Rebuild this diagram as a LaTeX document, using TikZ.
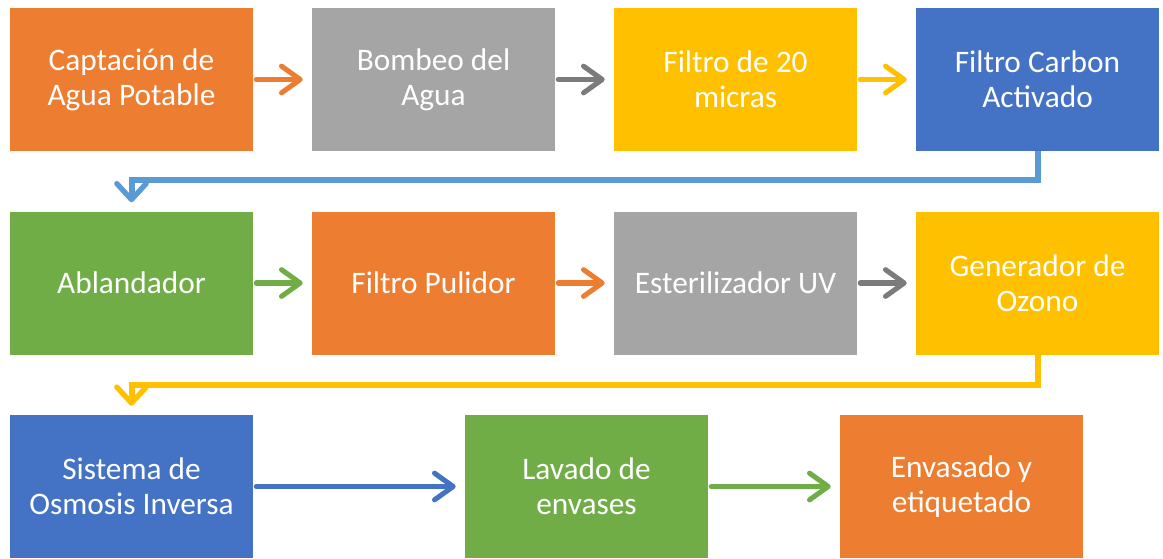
\documentclass[tikz,border=0pt]{standalone}
\usepackage{fontspec}
\setmainfont{Carlito}
\usepackage{tikz}
\usetikzlibrary{arrows.meta,positioning}
\definecolor{corange}{HTML}{ED7D31}
\definecolor{cgray}  {HTML}{A5A5A5}
\definecolor{cdgray} {HTML}{7B7B7B}
\definecolor{cyellow}{HTML}{FFC000}
\definecolor{cblue}  {HTML}{4472C4}
\definecolor{cgreen} {HTML}{70AD47}
\definecolor{clblue} {HTML}{5B9BD5}
\tikzset{
  % --- nodes
  stage/.style = {draw=none, minimum width=182.25pt, minimum height=107.25pt,
                  inner sep=2pt, align=center, text=white,
                  font=\fontsize{23.5}{26.25}\selectfont},
  % --- edges
  flow/.style  = {line width=3.8pt, line cap=round,
                  -{Straight Barb[length=14pt,width=20pt,line width=3.8pt,round]},
                  shorten <=2.25pt, shorten >=6.75pt},
  turn/.style  = {line width=4.5pt,
                  -{Straight Barb[length=12pt,width=22pt,line width=4pt,round]},
                  shorten >=6.75pt},
}
\begin{document}
\begin{tikzpicture}[x=0.75pt,y=-0.75pt]
  \useasboundingbox (0,0) rectangle (1163,558);
  % row 1
  \node[stage, fill=corange] (capt) at (131.5,79.5)  {Captación de\\Agua Potable};
  \node[stage, fill=cgray]   (bomb) at (433.5,79.5)  {Bombeo del\\Agua};
  \node[stage, fill=cyellow] (f20)  at (735.5,79.5)  {Filtro de 20\\micras};
  \node[stage, fill=cblue]   (fca)  at (1037.5,79.5) {Filtro Carbon\\Activado};
  % row 2
  \node[stage, fill=cgreen]  (abla) at (131.5,283)   {Ablandador};
  \node[stage, fill=corange] (fpul) at (433.5,283)   {Filtro Pulidor};
  \node[stage, fill=cgray]   (uv)   at (735.5,283)   {Esterilizador UV};
  \node[stage, fill=cyellow] (ozon) at (1037.5,283)  {Generador de\\Ozono};
  % row 3
  \node[stage, fill=cblue]   (osmo) at (131.5,486.5) {Sistema de\\Osmosis Inversa};
  \node[stage, fill=cgreen]  (lava) at (586.5,486.5) {Lavado de\\envases};
  \node[stage, fill=corange] (enva) at (961.5,486.5) {Envasado y\\etiquetado};
  % arrows
  \draw[flow, corange] (capt) -- (bomb);
  \draw[flow, cdgray]  (bomb) -- (f20);
  \draw[flow, cyellow] (f20)  -- (fca);
  \draw[turn, clblue]  (fca.south) -- ++(0,29) -| (abla.north);
  \draw[flow, cgreen]  (abla) -- (fpul);
  \draw[flow, corange] (fpul) -- (uv);
  \draw[flow, cdgray]  (uv)   -- (ozon);
  \draw[turn, cyellow] (ozon.south) -- ++(0,30) -| (osmo.north);
  \draw[flow, cblue]   (osmo) -- (lava);
  \draw[flow, cgreen]  (lava) -- (enva);
\end{tikzpicture}
\end{document}
